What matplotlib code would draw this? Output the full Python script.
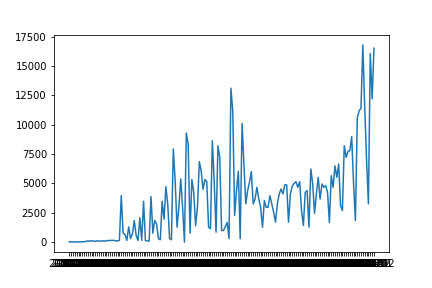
import matplotlib
matplotlib.use("Agg")
import matplotlib.pyplot as plt
import pandas as pd

flat_start = [30, 20, 15, 20, 10, 25, 20, 30, 40, 60, 110, 80, 120, 90, 70, 110,
              100, 80, 120, 90, 110, 150, 130, 160, 140, 120, 100, 160]
middle = [3970, 765, 650, 150, 1300, 300, 710, 1840, 570, 140, 2070, 150, 3480,
          150, 100, 100, 3880, 765, 1840, 1560, 300, 200, 3480, 1950, 4730, 3260,
          300, 200, 7930, 5240, 1270, 2970, 5380, 2970, 0, 9290, 8350, 765, 5330,
          4250, 1400, 2970, 6860, 6090, 4500, 5330, 5150, 1270, 1150, 8640, 5240,
          850, 8200]
late = [7220, 990, 990, 1330, 1670, 310, 13110, 11180, 2270, 4390, 6030, 290,
        10110, 6650, 3260, 4390, 5100, 6000, 3260, 3680, 4670, 3680, 2970, 1270,
        3540, 2970, 2970, 3960, 3260, 2550, 1700, 3260, 4100, 4530, 4100, 4880,
        4880, 1700, 4100, 4780, 5000, 5150, 4670, 5150, 2690, 1420, 4240, 4390,
        1270, 6230, 5000, 2460, 4100, 5520, 3680, 4950, 4670, 4810, 4240, 1670,
        5660, 4670, 6500, 5520, 6650, 3110, 2690, 8215, 7220, 7730, 7790, 8980,
        5000, 1840, 10570, 11180, 11410, 16790, 11500, 7000, 3260, 16060, 12200,
        16510]

values = flat_start + middle + late
n = len(values)
end_month = pd.Timestamp("2021-02-01")
labels = list(pd.date_range(end=end_month, periods=n, freq="MS").strftime("%Y-%m"))

fig = plt.figure(figsize=(6, 4), dpi=72)
ax = fig.add_axes([0.125, 0.125, 0.776, 0.753])
ax.plot(labels, values, color="C0")
fig.savefig("out.png", dpi=72)
